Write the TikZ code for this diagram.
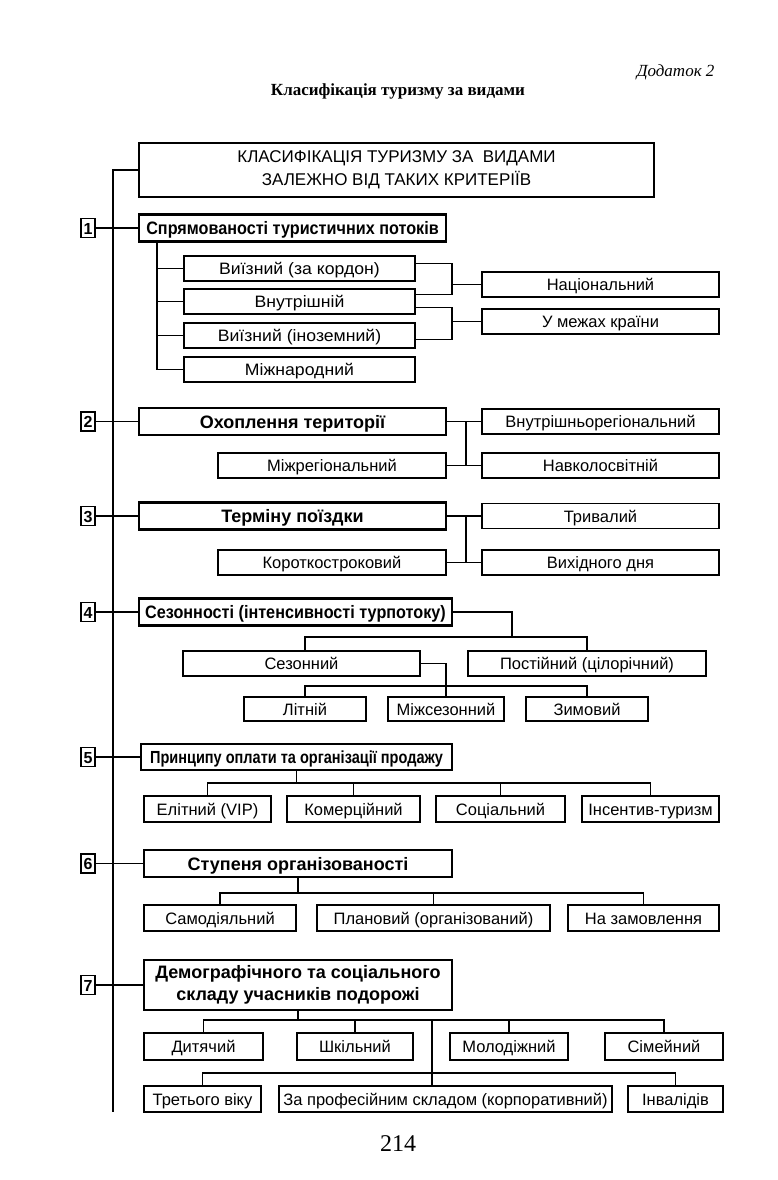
\documentclass[tikz,border=0pt]{standalone}
\usepackage{fontspec}
\setmainfont{Liberation Sans}
\newfontfamily\serifuk{Liberation Serif}
\newfontfamily\condA[FakeStretch=0.9]{Liberation Sans}
\newfontfamily\condB[FakeStretch=0.83]{Liberation Sans}
\newfontfamily\wideA[FakeStretch=1.07]{Liberation Sans}
\begin{document}
\begin{tikzpicture}[x=1pt,y=-1pt,
  bx/.style={draw, line width=1.3pt, inner sep=0pt, text height=13pt, text depth=1pt, font=\fontsize{16.5}{18}\selectfont},
  wbx/.style={bx, font=\wideA\fontsize{16.5}{18}\selectfont},
  hd/.style={draw, line width=2.1pt, inner sep=0pt, text height=14pt, text depth=1pt, font=\fontsize{18}{22}\selectfont\bfseries},
  num/.style={draw, line width=1.9pt, inner sep=0pt, minimum width=14pt, minimum height=19pt, text height=12pt, text depth=0pt, font=\fontsize{16}{16}\selectfont\bfseries},
  ln/.style={line width=1.1pt},
  spine/.style={line width=1.7pt},
]
\useasboundingbox (0,0) rectangle (777,1180);
% header texts
\node[anchor=east, font=\serifuk\itshape\fontsize{17}{19}\selectfont] (dod) at (718,72) {Додаток 2};
\node[font=\serifuk\bfseries\fontsize{17}{19}\selectfont] (title) at (398,91) {Класифікація туризму за видами};
\node[font=\serifuk\fontsize{24}{26}\selectfont] (page) at (398,1144) {214};

% main box
\node[draw, line width=1.4pt, inner sep=0pt, minimum width=515pt, minimum height=54pt, align=center, font=\fontsize{17}{23}\selectfont] (main) at (396.5,170) {КЛАСИФІКАЦІЯ ТУРИЗМУ ЗА\ \ ВИДАМИ\\ЗАЛЕЖНО ВІД ТАКИХ КРИТЕРІЇВ};
\coordinate (spB) at (113,1112);
\draw[spine] (main.west) -- (main.west -| spB) -- (spB);

% ---------- 1
\node[num] (n1) at (88,228) {1};
\node[hd, minimum width=307pt, minimum height=27pt, font=\condA\fontsize{18}{22}\selectfont\bfseries] (h1) at (292.5,228) {Спрямованості туристичних потоків};
\draw[ln] (n1.east) -- (h1.west);
\node[wbx, minimum width=231pt, minimum height=25pt] (s1a) at (299.5,268.5) {Виїзний (за кордон)};
\node[wbx, minimum width=231pt, minimum height=25pt] (s1b) at (299.5,301.5) {Внутрішній};
\node[wbx, minimum width=231pt, minimum height=25pt] (s1c) at (299.5,335.5) {Виїзний (іноземний)};
\node[wbx, minimum width=231pt, minimum height=25pt] (s1d) at (299.5,369.5) {Міжнародний};
\node[bx, minimum width=237pt, minimum height=25pt] (r1a) at (600.5,284.5) {Національний};
\node[bx, minimum width=237pt, minimum height=25pt] (r1b) at (600.5,321.5) {У межах країни};
\coordinate (v1) at (157,0);
\draw[ln] (h1.south -| v1) -- (s1d.west -| v1) -- (s1d.west);
\draw[ln] (s1a.west -| v1) -- (s1a.west);
\draw[ln] (s1b.west -| v1) -- (s1b.west);
\draw[ln] (s1c.west -| v1) -- (s1c.west);
\coordinate (j1) at (452,284.5);
\coordinate (j2) at (452,321.5);
\coordinate (k1t) at ([yshift=5pt]s1a.east);
\coordinate (k1b) at ([yshift=7pt]s1b.east);
\coordinate (k2t) at ([yshift=-6pt]s1b.east);
\coordinate (k2b) at ([yshift=-4pt]s1c.east);
\draw[ln] (k1t) -| (j1) |- (k1b);
\draw[ln] (j1) -- (r1a.west);
\draw[ln] (k2t) -| (j2) |- (k2b);
\draw[ln] (j2) -- (r1b.west);

% ---------- 2
\node[num] (n2) at (88,421.5) {2};
\node[hd, minimum width=307pt, minimum height=27pt] (h2) at (292.5,421.5) {Охоплення території};
\draw[ln] (n2.east) -- (h2.west);
\node[bx, minimum width=237pt, minimum height=25pt] (r2a) at (600.5,421.5) {Внутрішньорегіональний};
\node[bx, minimum width=228pt, minimum height=25pt] (l2) at (332,465.5) {Міжрегіональний};
\node[bx, minimum width=237pt, minimum height=25pt] (r2b) at (600.5,465.5) {Навколосвітній};
\coordinate (v2) at (466,0);
\draw[ln] (h2.east) -- (r2a.west);
\draw[ln] (l2.east) -- (r2b.west);
\draw[ln] (h2.east -| v2) -- (l2.east -| v2);

% ---------- 3
\node[num] (n3) at (88,516) {3};
\node[hd, minimum width=307pt, minimum height=27pt] (h3) at (292.5,516) {Терміну поїздки};
\draw[ln] (n3.east) -- (h3.west);
\node[bx, minimum width=237pt, minimum height=25pt] (r3a) at (600.5,516) {Тривалий};
\node[bx, minimum width=228pt, minimum height=25pt] (l3) at (332,562.5) {Короткостроковий};
\node[bx, minimum width=237pt, minimum height=25pt] (r3b) at (600.5,562.5) {Вихідного дня};
\coordinate (v3) at (466,0);
\draw[ln] (h3.east) -- (r3a.west);
\draw[ln] (l3.east) -- (r3b.west);
\draw[ln] (h3.east -| v3) -- (l3.east -| v3);

% ---------- 4
\node[num] (n4) at (88,612) {4};
\node[hd, minimum width=313pt, minimum height=27pt, font=\condA\fontsize{18}{22}\selectfont\bfseries] (h4) at (295.5,612) {Сезонності (інтенсивності турпотоку)};
\draw[ln] (n4.east) -- (h4.west);
\node[bx, minimum width=237pt, minimum height=25pt] (s4a) at (301.5,663.5) {Сезонний};
\node[bx, minimum width=238pt, minimum height=25pt] (s4b) at (587,663.5) {Постійний (цілорічний)};
\node[bx, minimum width=122pt, minimum height=24pt] (t4a) at (305,709) {Літній};
\node[bx, minimum width=116pt, minimum height=24pt] (t4b) at (446,709) {Міжсезонний};
\node[bx, minimum width=122pt, minimum height=24pt] (t4c) at (587,709) {Зимовий};
\coordinate (k4) at (512,637);
\coordinate (k4b) at (446,686);
\draw[ln] (h4.east) -| (k4);
\draw[ln] (s4a.north -| t4a.north) |- (k4) -| (s4b.north);
\draw[ln] (s4a.east) -| (t4b.north);
\draw[ln] (t4a.north) |- (k4b) -| (t4c.north);

% ---------- 5
\node[num] (n5) at (88,757) {5};
\node[hd, minimum width=311pt, minimum height=26pt, font=\condB\fontsize{17.5}{22}\selectfont\bfseries] (h5) at (296.5,757) {Принципу оплати та організації продажу};
\draw[ln] (n5.east) -- (h5.west);
\node[bx, minimum width=127pt, minimum height=26pt] (b5a) at (207.5,809) {Елітний (VIP)};
\node[bx, minimum width=133pt, minimum height=26pt] (b5b) at (353.5,809) {Комерційний};
\node[bx, minimum width=129pt, minimum height=26pt] (b5c) at (500.5,809) {Соціальний};
\node[bx, minimum width=137pt, minimum height=26pt] (b5d) at (650.5,809) {Інсентив-туризм};
\coordinate (k5) at (296.5,783);
\draw[ln] (h5.south) -- (k5);
\draw[ln] (b5a.north) |- (k5) -| (b5d.north);
\draw[ln] (b5b.north) -- (b5b.north |- k5);
\draw[ln] (b5c.north) -- (b5c.north |- k5);

% ---------- 6
\node[num] (n6) at (88,863.5) {6};
\node[hd, minimum width=308pt, minimum height=27pt] (h6) at (298,863.5) {Ступеня організованості};
\draw[ln] (n6.east) -- (h6.west);
\node[bx, minimum width=152pt, minimum height=26pt] (b6a) at (220,918) {Самодіяльний};
\node[bx, minimum width=233pt, minimum height=26pt] (b6b) at (433.5,918) {Плановий (організований)};
\node[bx, minimum width=151pt, minimum height=26pt] (b6c) at (643.5,918) {На замовлення};
\coordinate (k6) at (298,893);
\draw[ln] (h6.south) -- (k6);
\draw[ln] (b6a.north) |- (k6) -| (b6c.north);
\draw[ln] (b6b.north) -- (b6b.north |- k6);

% ---------- 7
\node[num] (n7) at (88,985) {7};
\node[hd, minimum width=308pt, minimum height=50pt, align=center, text height=, text depth=] (h7) at (298,985) {Демографічного та соціального\\складу учасників подорожі};
\draw[ln] (n7.east) -- (h7.west);
\node[bx, minimum width=119pt, minimum height=27pt] (b7a) at (203.5,1046.5) {Дитячий};
\node[bx, minimum width=116pt, minimum height=27pt] (b7b) at (355,1046.5) {Шкільний};
\node[bx, minimum width=118pt, minimum height=27pt] (b7c) at (509,1046.5) {Молодіжний};
\node[bx, minimum width=118pt, minimum height=27pt] (b7d) at (664,1046.5) {Сімейний};
\node[bx, minimum width=117pt, minimum height=26pt] (b7e) at (202.5,1099) {Третього віку};
\node[bx, minimum width=333pt, minimum height=26pt] (b7f) at (445.5,1099) {За професійним складом (корпоративний)};
\node[bx, minimum width=95pt, minimum height=26pt] (b7g) at (675.5,1099) {Інвалідів};
\coordinate (k7) at (298,1020);
\coordinate (k7v) at (432,1020);
\coordinate (k7w) at (432,1073);
\draw[ln] (h7.south) -- (k7);
\draw[ln] (b7a.north) |- (k7) -| (b7d.north);
\draw[ln] (b7b.north) -- (b7b.north |- k7);
\draw[ln] (b7c.north) -- (b7c.north |- k7);
\draw[ln] (k7v) -- (b7f.north -| k7v);
\draw[ln] (b7e.north) |- (k7w) -| (b7g.north);
\end{tikzpicture}
\end{document}
